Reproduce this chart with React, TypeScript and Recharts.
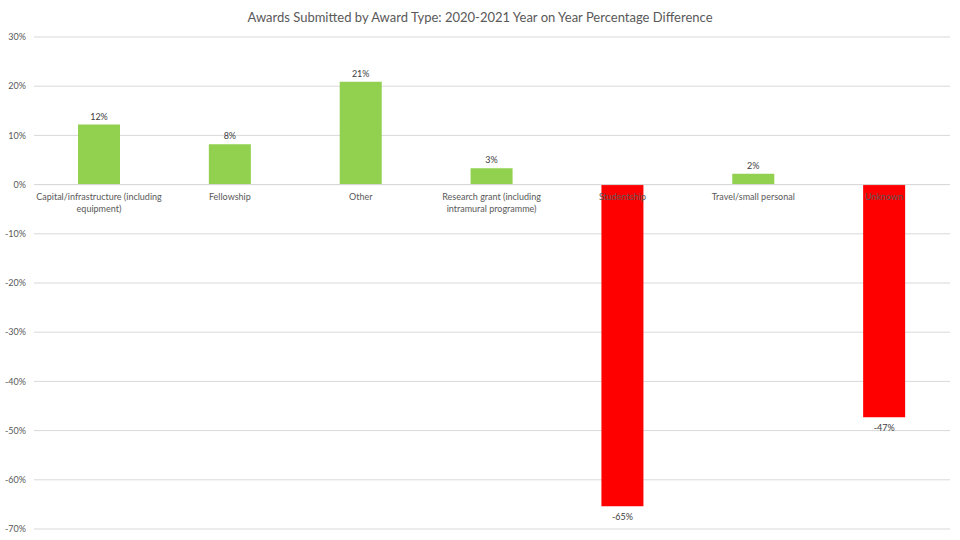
import { BarChart, Bar, XAxis, YAxis, CartesianGrid, Cell, LabelList, ReferenceLine } from 'recharts'

const categories = [
  'Capital/infrastructure (including equipment)',
  'Fellowship',
  'Other',
  'Research grant (including intramural programme)',
  'Studentship',
  'Travel/small personal',
  'Unknown',
]
const pctDiff = [12.2, 8.2, 20.9, 3.3, -65.4, 2.2, -47.3]
const yTicks = [-70, -60, -50, -40, -30, -20, -10, 0, 10, 20, 30]

const data = categories.map((name, i) => ({ name, value: pctDiff[i] }))

const FONT = 'Lato, "Open Sans", sans-serif'

function wrap(text: string, max = 34) {
  const lines: string[] = []
  let cur = ''
  for (const w of text.split(' ')) {
    if (cur && (cur + ' ' + w).length > max) {
      lines.push(cur)
      cur = w
    } else cur = cur ? cur + ' ' + w : w
  }
  if (cur) lines.push(cur)
  return lines
}

// category name drawn just under the zero line
const CategoryLabel = (props: any) => {
  const { x, y, width, height, value, index } = props
  const zeroY = value >= 0 || height < 0 ? y + height : y
  const lines = wrap(categories[index])
  return (
    <text x={x + width / 2} y={zeroY + 15} textAnchor="middle" fontSize={9} fill="#595959" fontFamily={FONT}>
      {lines.map((l, k) => (
        <tspan key={k} x={x + width / 2} dy={k === 0 ? 0 : 12}>{l}</tspan>
      ))}
    </text>
  )
}

const ValueLabel = (props: any) => {
  const { x, y, width, height, value } = props
  const top = Math.min(y, y + height)
  const bottom = Math.max(y, y + height)
  const ty = value >= 0 ? top - 5 : bottom + 14
  return (
    <text x={x + width / 2} y={ty} textAnchor="middle" fontSize={9} fill="#404040" fontFamily={FONT}>
      {Math.round(value)}%
    </text>
  )
}

export default function App() {
  return (
    <div style={{ position: 'absolute', left: 0, top: 0, width: 960, height: 540, background: '#fff' }}>
      <div style={{ position: 'absolute', top: 9, width: 960, textAlign: 'center', fontFamily: FONT, fontSize: 13, color: '#595959' }}>
        Awards Submitted by Award Type: 2020-2021 Year on Year Percentage Difference
      </div>
      <BarChart width={960} height={540} data={data} margin={{ top: 37, right: 10, bottom: 11, left: 0 }}>
        <CartesianGrid vertical={false} stroke="#d9d9d9" />
        <XAxis dataKey="name" hide />
        <YAxis
          domain={[-70, 30]}
          ticks={yTicks}
          width={34}
          axisLine={false}
          tickLine={false}
          tickFormatter={v => `${v}%`}
          tick={{ fontSize: 9, fill: '#595959', fontFamily: FONT }}
        />
        <ReferenceLine y={0} stroke="#d9d9d9" />
        <Bar dataKey="value" barSize={42} isAnimationActive={false}>
          {data.map((d, i) => (
            <Cell key={i} fill={d.value >= 0 ? '#92d050' : '#ff0000'} />
          ))}
          <LabelList dataKey="value" content={CategoryLabel} />
          <LabelList dataKey="value" content={ValueLabel} />
        </Bar>
      </BarChart>
    </div>
  )
}
